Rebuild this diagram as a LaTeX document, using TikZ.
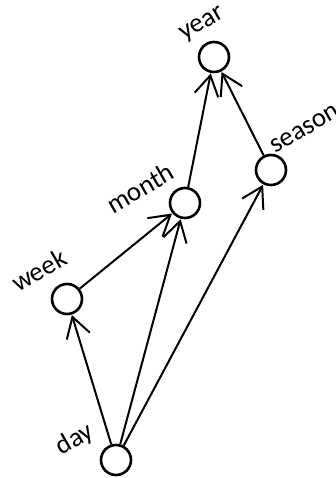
\documentclass[tikz,border=0pt]{standalone}
\usepackage{fontspec}
\setmainfont{Carlito}
\usepackage{tikz}
\usetikzlibrary{arrows.meta, positioning}

\tikzset{
  unit/.style={circle, draw, line width=2.6pt, minimum size=30pt, inner sep=0pt},
  lbl/.style={rotate=30, font=\fontsize{27}{27}\selectfont, inner sep=0pt},
  up/.style={line width=2pt, -{Straight Barb[length=20pt, width=24pt, line width=2pt]}, shorten >=0.5pt}
}

\begin{document}
\begin{tikzpicture}[x=1pt, y=-1pt]
\useasboundingbox (0,0) rectangle (336,478);

% Time units
\node[unit] (year) at (214,57) {};
\node[unit] (season) at (271,170) {};
\node[unit] (month) at (185,203) {};
\node[unit] (week) at (67,299) {};
\node[unit] (day) at (116,460) {};

% Labels
\node[lbl] (yearlbl) at ([shift={(-11,-32)}]year) {year};
\node[lbl] (seasonlbl) at ([shift={(34,-41)}]season) {season};
\node[lbl] (monthlbl) at ([shift={(-45,-15)}]month) {month};
\node[lbl] (weeklbl) at ([shift={(-28,-29)}]week) {week};
\node[lbl] (daylbl) at ([shift={(-41,-20)}]day) {day};

% Order
\draw[up] (day) -- (week);
\draw[up] (day) -- (month);
\draw[up] (day) -- (season);
\draw[up] (week) -- (month);
\draw[up] (month) -- (year);
\draw[up] (season) -- (year);
\end{tikzpicture}
\end{document}
